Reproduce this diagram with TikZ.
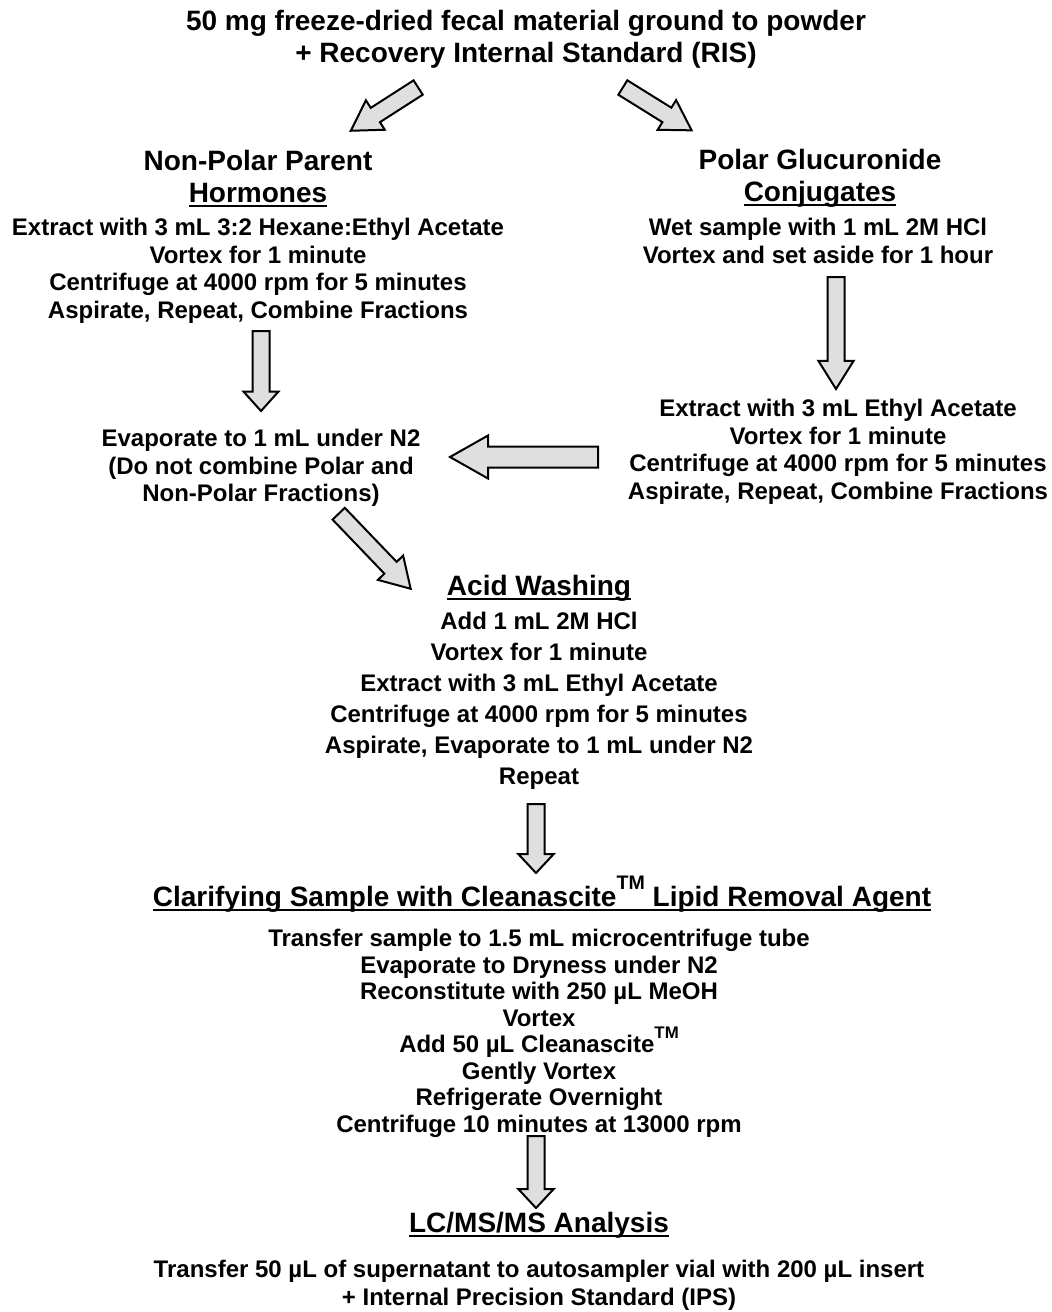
\documentclass[tikz,border=0pt]{standalone}
\usepackage{fontspec}
\setmainfont{Liberation Sans}
\usetikzlibrary{shapes.arrows}
\newcommand{\ulhead}[1]{\setbox0\hbox{#1}\rlap{\rule[-0.15em]{\wd0}{0.07em}}\box0}
\newcommand{\tmark}{\smash{\raisebox{0.6em}{\fontsize{0.7em}{0.7em}\selectfont TM}}}
\tikzset{%
  x=1pt,y=-1pt,
  every node/.style={inner sep=0pt},
  title/.style={font=\fontsize{28}{32}\selectfont\bfseries,align=center,anchor=north},
  head/.style={font=\fontsize{28}{32}\selectfont\bfseries,align=center,anchor=north},
  body/.style={font=\fontsize{24}{27.6}\selectfont\bfseries,align=center,anchor=north},
  bodywide/.style={body,font=\fontsize{24}{31}\selectfont\bfseries},
  bodymid/.style={body,font=\fontsize{24}{26.5}\selectfont\bfseries},
  fatarrow/.style={single arrow,draw=black,line width=2pt,fill=gray!25,anchor=tail,
    inner xsep=0pt,inner ysep=7.5pt,single arrow head extend=9pt,minimum width=0pt}
}
\begin{document}
\begin{tikzpicture}
\useasboundingbox (0,0) rectangle (1052,1312);

\node[title] (sample) at (526,10) {50 mg freeze-dried fecal material ground to powder\\
  + Recovery Internal Standard (RIS)};

% two fractions
\node[head] (nonpolar) at (258,150) {Non-Polar Parent\\\ulhead{Hormones}};
\node[body] (npsteps) at (258,218) {Extract with 3 mL 3:2 Hexane:Ethyl Acetate\\
  Vortex for 1 minute\\
  Centrifuge at 4000 rpm for 5 minutes\\
  Aspirate, Repeat, Combine Fractions};

\node[head] (polar) at (820,149) {Polar Glucuronide\\\ulhead{Conjugates}};
\node[body] (pgsteps) at (818,218) {Wet sample with 1 mL 2M HCl\\
  Vortex and set aside for 1 hour};

\node[body] (evap) at (261,429) {Evaporate to 1 mL under N2\\
  (Do not combine Polar and\\
  Non-Polar Fractions)};
\node[body] (pgextract) at (838,399) {Extract with 3 mL Ethyl Acetate\\
  Vortex for 1 minute\\
  Centrifuge at 4000 rpm for 5 minutes\\
  Aspirate, Repeat, Combine Fractions};

% acid washing
\node[head] (acid) at (539,575) {\ulhead{Acid Washing}};
\node[bodywide] (acidsteps) at (539,612) {Add 1 mL 2M HCl\\
  Vortex for 1 minute\\
  Extract with 3 mL Ethyl Acetate\\
  Centrifuge at 4000 rpm for 5 minutes\\
  Aspirate, Evaporate to 1 mL under N2\\
  Repeat};

% clarifying
\node[head] (clarify) at (542,886) {\ulhead{Clarifying Sample with Cleanascite\tmark\ Lipid Removal Agent}};
\node[bodymid] (clarsteps) at (539,929) {Transfer sample to 1.5 mL microcentrifuge tube\\
  Evaporate to Dryness under N2\\
  Reconstitute with 250 µL MeOH\\
  Vortex\\
  Add 50 µL Cleanascite\tmark\\
  Gently Vortex\\
  Refrigerate Overnight\\
  Centrifuge 10 minutes at 13000 rpm};

\node[head] (lcms) at (539,1212) {\ulhead{LC/MS/MS Analysis}};
\node[body] (vial) at (539,1260) {Transfer 50 µL of supernatant to autosampler vial with 200 µL insert\\
  + Internal Precision Standard (IPS)};

% block arrows
\node[fatarrow,rotate=-147.3,minimum height=80pt,single arrow tip angle=62] (toNonpolar) at (419,87) {};
\node[fatarrow,rotate=-31.9,minimum height=81pt,single arrow tip angle=62] (toPolar) at (622,87) {};
\node[fatarrow,rotate=-90,minimum height=80pt,single arrow tip angle=84] (toEvap) at (261,330) {};
\node[fatarrow,rotate=-90,minimum height=112pt,single arrow tip angle=64] (toExtract) at (836,276) {};
\node[fatarrow,rotate=180,minimum height=148pt,inner ysep=9.5pt,single arrow head extend=11pt,
  single arrow tip angle=59] (toCombine) at (599,457) {};
\node[fatarrow,rotate=-46.2,minimum height=104pt,single arrow tip angle=62] (toAcid) at (338,513) {};
\node[fatarrow,rotate=-90,minimum height=69pt,single arrow tip angle=86] (toClarify) at (536,803) {};
\node[fatarrow,rotate=-90,minimum height=72pt,single arrow tip angle=86] (toLcms) at (536,1135) {};
\end{tikzpicture}
\end{document}
